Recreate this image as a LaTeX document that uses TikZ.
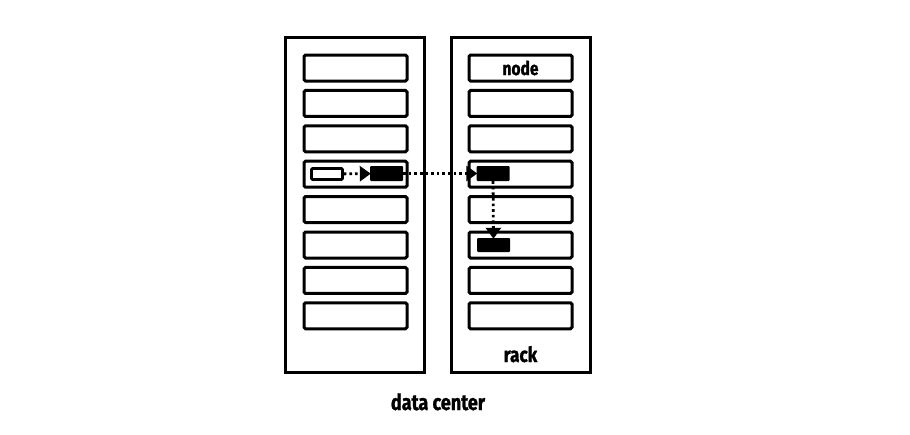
\documentclass[tikz,border=0pt]{standalone}
\usepackage{fontspec}
\newfontfamily\labelfont[FakeStretch=0.82,FakeBold=1.2]{Fira Sans}
\usetikzlibrary{arrows.meta}
\tikzset{
  rackbox/.style={draw, line width=3pt, minimum width=139pt, minimum height=335pt, inner sep=0pt},
  slotbox/.style={draw, line width=3pt, rounded corners=1.5pt, minimum width=103pt, minimum height=26pt, inner sep=0pt},
  srcbox/.style={draw, line width=2.6pt, rounded corners=1pt, minimum width=31pt, minimum height=11pt, inner sep=0pt},
  blockbox/.style={fill=black, rounded corners=1pt, minimum width=33pt, minimum height=15pt, inner sep=0pt},
  dotarrow/.style={line width=2.8pt, dash pattern=on 2.6pt off 3pt, -{Triangle[length=11pt,width=15pt]}, shorten >=-1pt},
  lbl/.style={font=\labelfont\bfseries, inner sep=0pt}
}
\begin{document}
\begin{tikzpicture}[x=1pt,y=-1pt]
	\useasboundingbox (0,0) rectangle (910,434);
	% racks
	\node[rackbox] (rackL) at (354.5,204.5) {};
	\node[rackbox] (rackR) at (520.5,204.5) {};
	% slots
	\foreach \i in {1,...,8} {
		\node[slotbox] (L\i) at (355.5,{68+(\i-1)*35.4}) {};
		\node[slotbox] (R\i) at (520.5,{68+(\i-1)*35.4}) {};
	}
	\node[lbl, font=\labelfont\bfseries\fontsize{19}{19}\selectfont] (nodelbl) at (R1) {node};
	\node[lbl, font=\labelfont\bfseries\fontsize{21}{21}\selectfont, anchor=base] (racklbl) at (520.5,362) {rack};
	\node[lbl, font=\labelfont\bfseries\fontsize{22}{22}\selectfont, anchor=base] (dclbl) at (438,410) {data center};
	% blocks and moves
	\node[srcbox] (src) at (327,174) {};
	\node[blockbox] (blkA) at (386.5,173.5) {};
	\node[blockbox] (blkB) at (493,173.5) {};
	\node[blockbox, minimum height=14pt] (blkC) at (493.5,245) {};
	\draw[dotarrow] (src) -- (blkA);
	\draw[dotarrow] (blkA) -- (blkB);
	\draw[dotarrow] (blkB) -- (blkC);
\end{tikzpicture}
\end{document}
